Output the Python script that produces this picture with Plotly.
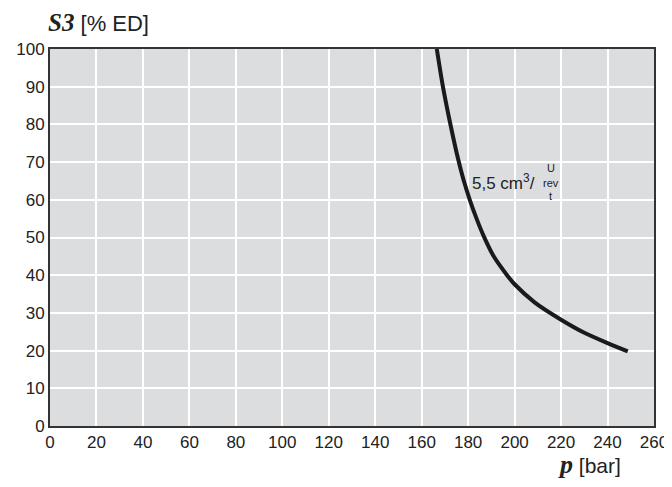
import plotly.graph_objects as go

# data (5,5 cm3/rev)
pressure_bar = [166.5, 169.0, 172.2, 175.6, 178.0, 180.7, 183.5, 186.6, 191.0, 196.5,
                200.0, 208.6, 220.0, 229.8, 240.0, 248.7]
s3_percent_ed = [100.0, 90.5, 80.5, 71.0, 65.3, 60.0, 55.2, 50.5, 45.0, 40.2,
                 37.6, 32.8, 28.2, 24.8, 22.0, 19.8]
x_ticks = list(range(0, 261, 20))
y_ticks = list(range(0, 101, 10))

FONT = "Liberation Sans, Arial, sans-serif"
SERIF = "Liberation Serif, Times New Roman, serif"

fig = go.Figure()
fig.add_trace(go.Scatter(x=pressure_bar, y=s3_percent_ed, mode="lines",
                         line=dict(color="#1a1a1a", width=4, shape="spline", smoothing=0.6),
                         showlegend=False, hoverinfo="skip"))

axis_common = dict(showgrid=True, gridcolor="white", gridwidth=1.5, zeroline=False,
                   showline=True, linecolor="#333", linewidth=2, mirror=True,
                   ticks="", tickfont=dict(size=17, family=FONT, color="#222"),
                   automargin=False)

# page body has an 8px margin, so the figure is sized to fit inside the window
fig.update_layout(
    width=664, height=479,
    margin=dict(l=42, r=18, t=41, b=61),
    paper_bgcolor="white",
    plot_bgcolor="#dcdddf",
    font=dict(family=FONT, size=17, color="#222"),
    xaxis=dict(range=[0, 260], tickvals=x_ticks, **axis_common),
    yaxis=dict(range=[0, 100], tickvals=y_ticks, **axis_common),
)

fig.add_annotation(xref="paper", yref="paper", x=-0.006, y=1.0715, xanchor="left",
                   yanchor="middle", showarrow=False,
                   text=f"<b><i><span style='font-family:{SERIF};font-size:25px'>S3</span></i></b> [% ED]",
                   font=dict(size=22, family=FONT, color="#222"))
fig.add_annotation(xref="paper", yref="paper", x=0.948, y=-0.103, xanchor="right",
                   yanchor="middle", showarrow=False,
                   text=f"<b><i><span style='font-family:{SERIF};font-size:26px'>p</span></i></b> [bar]",
                   font=dict(size=21, family=FONT, color="#222"))

fig.add_annotation(x=181.0, y=64.7, xref="x", yref="y", xanchor="left", yanchor="middle",
                   showarrow=False, text="5,5 cm<sup>3</sup>/",
                   font=dict(size=17, family=FONT, color="#222"))
fig.add_annotation(x=215.5, y=68.5, xref="x", yref="y", xanchor="center", yanchor="middle",
                   showarrow=False, text="U", font=dict(size=11, family=FONT, color="#222"))
fig.add_annotation(x=215.5, y=64.5, xref="x", yref="y", xanchor="center", yanchor="middle",
                   showarrow=False, text="rev", font=dict(size=11, family=FONT, color="#222"))
fig.add_annotation(x=215.5, y=61.0, xref="x", yref="y", xanchor="center", yanchor="middle",
                   showarrow=False, text="t", font=dict(size=11, family=FONT, color="#222"))

fig.write_html("out.html")
